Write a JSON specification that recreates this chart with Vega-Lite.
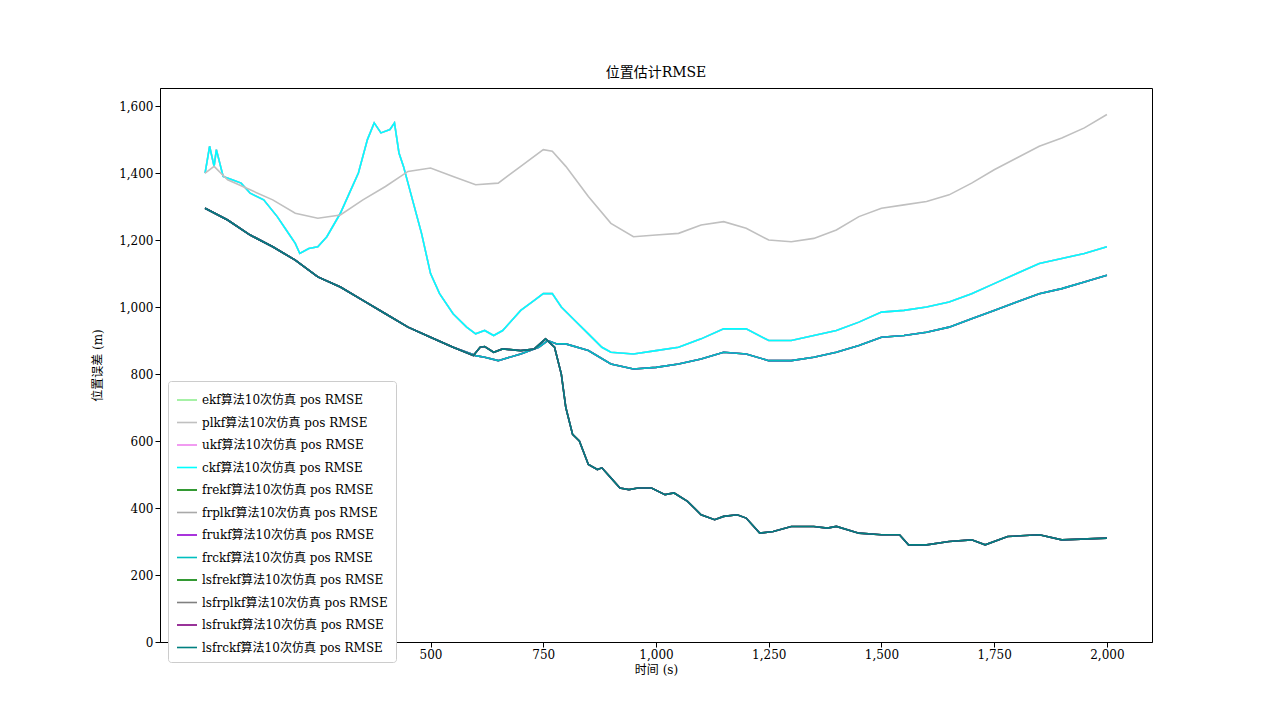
{
  "$schema": "https://vega.github.io/schema/vega-lite/v6.json",
  "width": 992,
  "height": 554,
  "autosize": "none",
  "padding": {"left": 160, "top": 88, "right": 128, "bottom": 79},
  "background": "white",
  "config": {
    "font": "DejaVu Serif, Noto Sans CJK SC",
    "view": {"stroke": "black"},
    "axis": {"grid": false, "domainColor": "black", "tickColor": "black", "labelColor": "black", "titleColor": "black", "labelFontSize": 12, "titleFontSize": 12, "titleFontWeight": "normal"}
  },
  "title": {"text": "位置估计RMSE", "fontSize": 14, "fontWeight": "normal", "offset": 8},
  "datasets": {
    "A": [
      [0,1400],[10,1480],[20,1420],[25,1470],[40,1390],[60,1380],[80,1370],[100,1340],[130,1320],[160,1270],[180,1230],[200,1190],[210,1160],[230,1175],[250,1180],[270,1210],[300,1280],[320,1340],[340,1400],[360,1500],[375,1550],[390,1520],[410,1530],[420,1550],[430,1460],[440,1420],[460,1320],[480,1220],[500,1100],[520,1040],[550,980],[580,940],[600,920],[620,930],[640,915],[660,930],[680,960],[700,990],[730,1020],[750,1040],[770,1040],[790,1000],[820,960],[850,920],[880,880],[900,865],[950,860],[1000,870],[1050,880],[1100,905],[1150,935],[1200,935],[1250,900],[1300,900],[1350,915],[1400,930],[1450,955],[1500,985],[1550,990],[1600,1000],[1650,1015],[1700,1040],[1750,1070],[1800,1100],[1850,1130],[1900,1145],[1950,1160],[2000,1180]
    ],
    "P": [
      [0,1400],[20,1420],[50,1380],[100,1350],[150,1320],[200,1280],[250,1265],[300,1275],[350,1320],[400,1360],[450,1405],[500,1415],[550,1390],[600,1365],[650,1370],[700,1420],[750,1470],[770,1465],[800,1420],[850,1330],[900,1250],[950,1210],[1000,1215],[1050,1220],[1100,1245],[1150,1255],[1200,1235],[1250,1200],[1300,1195],[1350,1205],[1400,1230],[1450,1270],[1500,1295],[1550,1305],[1600,1315],[1650,1335],[1700,1370],[1750,1410],[1800,1445],[1850,1480],[1900,1505],[1950,1535],[2000,1575]
    ],
    "F": [
      [0,1295],[50,1260],[100,1215],[150,1180],[200,1140],[250,1090],[300,1060],[350,1020],[400,980],[450,940],[500,910],[550,880],[600,855],[620,850],[650,840],[700,860],[740,880],[760,900],[780,890],[800,890],[850,870],[900,830],[950,815],[1000,820],[1050,830],[1100,845],[1150,865],[1200,860],[1250,840],[1300,840],[1350,850],[1400,865],[1450,885],[1500,910],[1550,915],[1600,925],[1650,940],[1700,965],[1750,990],[1800,1015],[1850,1040],[1900,1055],[1950,1075],[2000,1095]
    ],
    "L": [
      [0,1295],[50,1260],[100,1215],[150,1180],[200,1140],[250,1090],[300,1060],[350,1020],[400,980],[450,940],[500,910],[550,880],[595,855],[610,880],[620,882],[640,865],[660,875],[700,870],[730,875],[755,905],[775,880],[790,800],[800,700],[815,620],[830,600],[850,530],[870,515],[880,520],[900,490],[920,460],[940,455],[960,460],[990,460],[1020,440],[1040,445],[1070,420],[1100,380],[1130,365],[1150,375],[1180,380],[1200,370],[1230,325],[1260,330],[1300,345],[1350,345],[1380,340],[1400,345],[1450,325],[1500,320],[1540,320],[1560,290],[1600,290],[1650,300],[1700,305],[1730,290],[1780,315],[1850,320],[1900,305],[2000,310]
    ]
  },
  "encoding": {
    "x": {"field": "t", "type": "quantitative", "title": "时间 (s)", "scale": {"domain": [-100, 2100], "nice": false, "zero": false}, "axis": {"values": [0,250,500,750,1000,1250,1500,1750,2000], "labelFlush": false}},
    "y": {"field": "v", "type": "quantitative", "title": "位置误差 (m)", "scale": {"domain": [0, 1654], "nice": false}, "axis": {"values": [0,200,400,600,800,1000,1200,1400,1600], "titlePadding": 14}},
    "order": {"field": "t", "type": "quantitative"},
    "color": {
      "field": "series", "type": "nominal",
      "scale": {
        "domain": ["ekf算法10次仿真 pos RMSE","plkf算法10次仿真 pos RMSE","ukf算法10次仿真 pos RMSE","ckf算法10次仿真 pos RMSE","frekf算法10次仿真 pos RMSE","frplkf算法10次仿真 pos RMSE","frukf算法10次仿真 pos RMSE","frckf算法10次仿真 pos RMSE","lsfrekf算法10次仿真 pos RMSE","lsfrplkf算法10次仿真 pos RMSE","lsfrukf算法10次仿真 pos RMSE","lsfrckf算法10次仿真 pos RMSE"],
        "range": ["#90ee90","#c0c0c0","#ee82ee","#00ffff","#008000","#a9a9a9","#9400d3","#00bfbf","#008000","#808080","#800080","#008080"]
      },
      "legend": {
        "title": null, "orient": "none", "legendX": 8, "legendY": 293,
        "symbolType": "stroke", "symbolSize": 400, "symbolStrokeWidth": 1.6,
        "labelFontSize": 12, "labelLimit": 400, "rowPadding": 5.5,
        "strokeColor": "#cccccc", "fillColor": "white", "padding": 8, "cornerRadius": 3
      }
    }
  },
  "layer": [
    {"data": {"name": "A"}, "mark": {"type": "line", "strokeWidth": 1.6}, "transform": [
      {"calculate": "datum[0]", "as": "t"}, {"calculate": "datum[1]", "as": "v"},
      {"calculate": "['ekf算法10次仿真 pos RMSE','ukf算法10次仿真 pos RMSE','ckf算法10次仿真 pos RMSE']", "as": "series"},
      {"flatten": ["series"]}]},
    {"data": {"name": "P"}, "mark": {"type": "line", "strokeWidth": 1.6}, "transform": [
      {"calculate": "datum[0]", "as": "t"}, {"calculate": "datum[1]", "as": "v"},
      {"calculate": "['plkf算法10次仿真 pos RMSE']", "as": "series"},
      {"flatten": ["series"]}]},
    {"data": {"name": "F"}, "mark": {"type": "line", "strokeWidth": 1.6}, "transform": [
      {"calculate": "datum[0]", "as": "t"}, {"calculate": "datum[1]", "as": "v"},
      {"calculate": "['frekf算法10次仿真 pos RMSE','frplkf算法10次仿真 pos RMSE','frukf算法10次仿真 pos RMSE','frckf算法10次仿真 pos RMSE']", "as": "series"},
      {"flatten": ["series"]}]},
    {"data": {"name": "L"}, "mark": {"type": "line", "strokeWidth": 1.6}, "transform": [
      {"calculate": "datum[0]", "as": "t"}, {"calculate": "datum[1]", "as": "v"},
      {"calculate": "['lsfrekf算法10次仿真 pos RMSE','lsfrplkf算法10次仿真 pos RMSE','lsfrukf算法10次仿真 pos RMSE','lsfrckf算法10次仿真 pos RMSE']", "as": "series"},
      {"flatten": ["series"]}]}
  ]
}
